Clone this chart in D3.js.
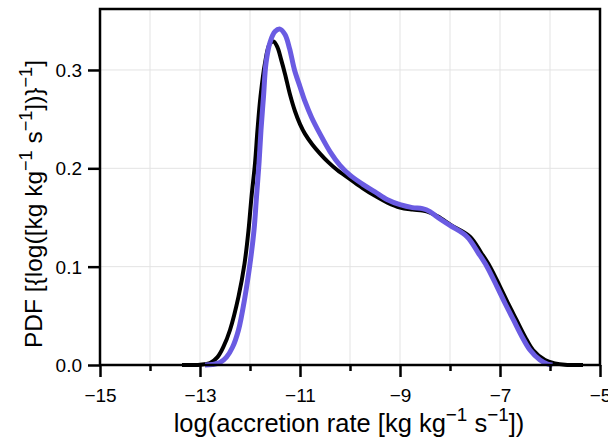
<!DOCTYPE html>
<html>
<head>
<meta charset="utf-8">
<script src="https://cdn.jsdelivr.net/npm/d3@7"></script>
<style>
  body { margin: 0; background: #fff; }
  svg { display: block; font-family: "Liberation Sans", Arial, sans-serif; }
</style>
</head>
<body>
<div class="canvas"></div>
<script>
"use strict";

// log(accretion rate) samples and PDF values
const blackX = [-13.36, -13.0, -12.8, -12.65, -12.53, -12.4, -12.23, -12.11, -12.03, -11.97,
  -11.9, -11.85, -11.79, -11.7, -11.61, -11.53, -11.45, -11.38, -11.3, -11.2,
  -11.1, -11.0, -10.9, -10.75, -10.6, -10.43, -10.25, -10.0, -9.75, -9.5,
  -9.25, -9.0, -8.75, -8.55, -8.4, -8.24, -7.97, -7.6, -7.37, -7.2,
  -7.0, -6.84, -6.67, -6.5, -6.34, -6.1, -5.9, -5.7, -5.34];
const blackY = [0, 0.0003, 0.002, 0.008, 0.0186, 0.0356, 0.0695, 0.103, 0.137, 0.171,
  0.205, 0.239, 0.273, 0.307, 0.326, 0.329, 0.323, 0.311, 0.296, 0.275,
  0.258, 0.245, 0.235, 0.224, 0.215, 0.206, 0.198, 0.189, 0.18, 0.172,
  0.165, 0.16, 0.158, 0.157, 0.155, 0.151, 0.142, 0.1305, 0.1136, 0.1,
  0.0797, 0.0628, 0.0458, 0.0288, 0.0153, 0.005, 0.0017, 0.0003, 0];

const blueX = [-12.9, -12.75, -12.6, -12.47, -12.35, -12.23, -12.1, -12.0, -11.92, -11.87,
  -11.82, -11.78, -11.73, -11.68, -11.6, -11.5, -11.4, -11.3, -11.21, -11.11,
  -11.0, -10.9, -10.77, -10.6, -10.4, -10.2, -10.0, -9.75, -9.5, -9.25,
  -9.0, -8.75, -8.55, -8.4, -8.27, -8.0, -7.66, -7.43, -7.26, -7.06,
  -6.9, -6.73, -6.56, -6.4, -6.2, -6.05, -5.95];
const blueY = [0, 0.0005, 0.0025, 0.008, 0.018, 0.0356, 0.0695, 0.103, 0.137, 0.171,
  0.205, 0.239, 0.273, 0.307, 0.328, 0.339, 0.3415, 0.336, 0.322, 0.3,
  0.283, 0.268, 0.252, 0.235, 0.217, 0.203, 0.193, 0.184, 0.176, 0.168,
  0.163, 0.16, 0.159, 0.156, 0.151, 0.142, 0.1305, 0.1136, 0.1, 0.0797,
  0.0628, 0.0458, 0.0288, 0.0153, 0.005, 0.001, 0];

const xMajor = [-15, -13, -11, -9, -7, -5];
const xMinor = [-14, -12, -10, -8, -6];
const yMajor = [0, 0.1, 0.2, 0.3];

// label pieces: [text, superscript?]
const xLabel = [["log(accretion rate [kg kg", 0], ["\u22121", 1], [" s", 0], ["\u22121", 1], ["])", 0]];
const yLabel = [["PDF [{log([kg kg", 0], ["\u22121", 1], [" s", 0], ["\u22121", 1], ["])}", 0], ["\u22121", 1], ["]", 0]];

const width = 608;
const height = 438;
const plot = { left: 100, right: 600, top: 9, bottom: 365 };

const svg = d3.select(".canvas").append("svg")
  .attr("width", width)
  .attr("height", height);

const x = d3.scaleLinear().domain([-15, -5]).range([plot.left, plot.right]);
const y = d3.scaleLinear().domain([0, 0.362]).range([plot.bottom, plot.top]);

// grid
const grid = svg.append("g").attr("stroke", "#e3e3e3").attr("stroke-width", 1);
grid.selectAll(".gx").data(d3.range(-14, -5)).join("line")
  .attr("x1", (d) => x(d)).attr("x2", (d) => x(d))
  .attr("y1", plot.top).attr("y2", plot.bottom);
grid.selectAll(".gy").data(yMajor.slice(1)).join("line")
  .attr("x1", plot.left).attr("x2", plot.right)
  .attr("y1", (d) => y(d)).attr("y2", (d) => y(d));

// curves
const line = (xs, ys) => d3.line()
  .x((d, i) => x(xs[i]))
  .y((d, i) => y(ys[i]))
  .curve(d3.curveCatmullRom.alpha(0.5))(xs);

svg.append("path")
  .attr("d", line(blackX, blackY))
  .attr("fill", "none")
  .attr("stroke", "#000")
  .attr("stroke-width", 4)
  .attr("stroke-linejoin", "round");

svg.append("path")
  .attr("d", line(blueX, blueY))
  .attr("fill", "none")
  .attr("stroke", "#6a5be2")
  .attr("stroke-width", 5)
  .attr("stroke-linejoin", "round");

// axes
svg.append("g")
  .attr("transform", `translate(0,${plot.bottom})`)
  .call(d3.axisBottom(x).tickValues(xMajor).tickSize(12).tickPadding(12).tickFormat(d3.format("d")));
svg.append("g")
  .attr("transform", `translate(0,${plot.bottom})`)
  .call(d3.axisBottom(x).tickValues(xMinor).tickSize(6).tickFormat(""));

const yAxis = svg.append("g")
  .attr("transform", `translate(${plot.left},0)`)
  .call(d3.axisLeft(y).tickValues(yMajor).tickSize(12).tickPadding(6).tickFormat(d3.format(".1f")));

svg.selectAll(".domain").remove();
svg.selectAll(".tick line").attr("stroke", "#000").attr("stroke-width", 2.5);
svg.selectAll(".tick text")
  .attr("fill", "#000")
  .style("font-family", "'Liberation Sans', Arial, sans-serif")
  .style("font-size", "19px");
yAxis.selectAll(".tick text").attr("dy", "0.34em");

// frame
svg.append("rect")
  .attr("x", plot.left).attr("y", plot.top)
  .attr("width", plot.right - plot.left)
  .attr("height", plot.bottom - plot.top)
  .attr("fill", "none")
  .attr("stroke", "#000")
  .attr("stroke-width", 2.5);

function richText(sel, parts, size) {
  parts.forEach(([str, sup], i) => {
    const prev = i > 0 ? parts[i - 1][1] : 0;
    const t = sel.append("tspan").text(str);
    if (sup) t.attr("dy", -size * 0.42).style("font-size", `${size * 0.74}px`);
    else if (prev) t.attr("dy", size * 0.42);
  });
}

const xl = svg.append("text")
  .attr("x", 349)
  .attr("y", 432)
  .attr("text-anchor", "middle")
  .style("font-size", "25.5px");
richText(xl, xLabel, 25.5);

const yl = svg.append("text")
  .attr("transform", `translate(42,204) rotate(-90)`)
  .attr("text-anchor", "middle")
  .style("font-size", "24.5px");
richText(yl, yLabel, 24.5);
</script>
</body>
</html>
